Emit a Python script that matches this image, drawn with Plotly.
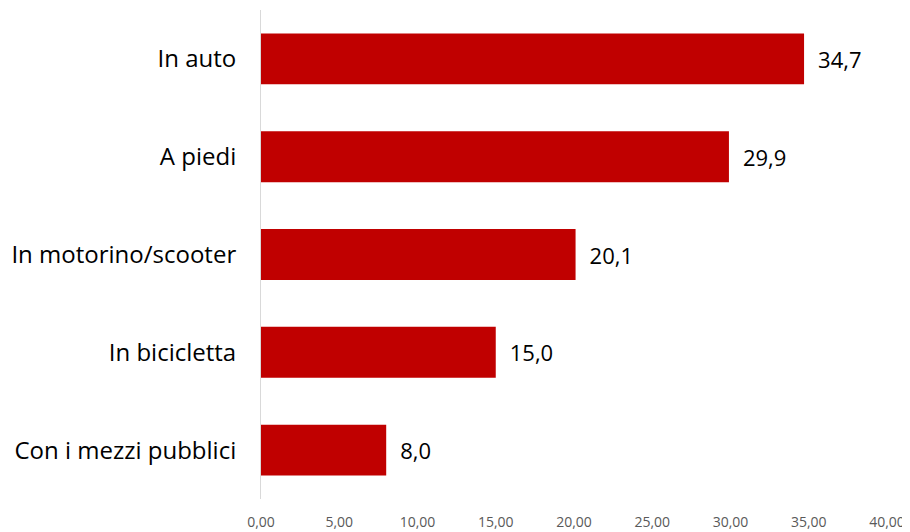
import plotly.graph_objects as go

categories = ["In auto", "A piedi", "In motorino/scooter", "In bicicletta", "Con i mezzi pubblici"]
values = [34.7, 29.9, 20.1, 15.0, 8.0]
tick_vals = [0, 5, 10, 15, 20, 25, 30, 35, 40]

fig = go.Figure(go.Bar(
    x=values,
    y=categories,
    orientation="h",
    marker=dict(color="#C00000", line=dict(width=0)),
    texttemplate="\u2002%{x:.1f}",
    textposition="outside",
    textfont=dict(size=22, color="#000000", family="Open Sans"),
    cliponaxis=False,
))

# the page body adds an 8px offset, so the figure is 8px smaller and margins are shifted
fig.update_layout(
    width=902, height=524,
    margin=dict(l=253, r=23, t=2, b=33),
    plot_bgcolor="white", paper_bgcolor="white",
    separators=",.",
    bargap=0.48,
    showlegend=False,
    font=dict(family="Open Sans"),
)
fig.update_xaxes(
    range=[0, 40], tickvals=tick_vals, tickformat=".2f",
    showgrid=False, zeroline=False, showline=False, automargin=False,
    tickfont=dict(size=14, color="#595959"),
    ticks="", ticklabelstandoff=13,
)
fig.update_yaxes(
    autorange="reversed", showgrid=False, zeroline=False, automargin=False,
    showline=True, linecolor="#D9D9D9", linewidth=1,
    ticks="", ticklabelstandoff=19,
    tickfont=dict(size=24, color="#000000"),
)

fig.write_html("out.html")
